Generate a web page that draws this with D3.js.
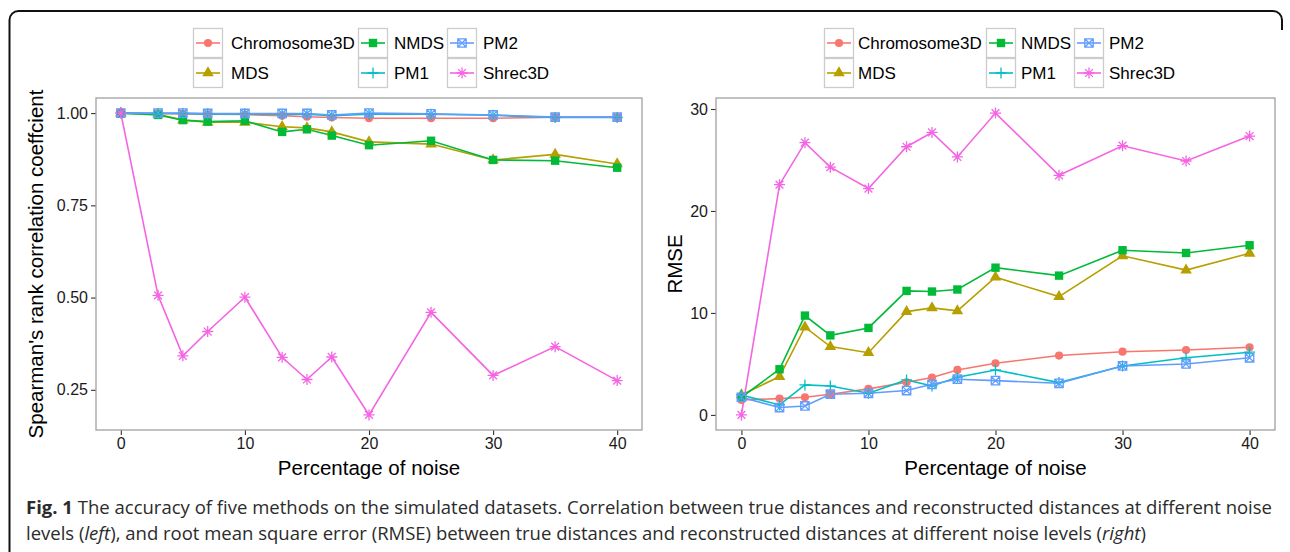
<!DOCTYPE html>
<html>
<head>
<meta charset="utf-8">
<script src="https://cdn.jsdelivr.net/npm/d3@7"></script>
<style>
  body { margin: 0; background: #fff; }
  svg { display: block; }
</style>
</head>
<body>
<svg id="fig" width="1290" height="552"></svg>
<script>
// noise levels (x) shared by both panels
const noise = [0, 3, 5, 7, 10, 13, 15, 17, 20, 25, 30, 35, 40];
const methods = ['Chromosome3D', 'MDS', 'NMDS', 'PM1', 'PM2', 'Shrec3D'];
const colors = ['#F8766D', '#B79F00', '#00BA38', '#00BFC4', '#619CFF', '#F564E3'];
const shapes = ['circle', 'triangle', 'square', 'plus', 'squareCross', 'asterisk'];

// left panel: Spearman's rank correlation
const corrChromosome3D = [1.000, 0.999, 0.998, 0.997, 0.996, 0.993, 0.990, 0.988, 0.986, 0.986, 0.986, 0.989, 0.989];
const corrMDS = [1.000, 0.997, 0.981, 0.975, 0.975, 0.963, 0.960, 0.949, 0.922, 0.916, 0.873, 0.888, 0.862];
const corrNMDS = [1.000, 0.995, 0.981, 0.977, 0.979, 0.949, 0.956, 0.939, 0.913, 0.925, 0.873, 0.871, 0.852];
const corrPM1 = [1.000, 0.999, 0.999, 0.998, 0.998, 0.997, 0.997, 0.993, 0.997, 0.997, 0.994, 0.988, 0.988];
const corrPM2 = [1.000, 1.000, 1.000, 0.999, 0.999, 0.999, 0.999, 0.995, 1.000, 0.998, 0.995, 0.989, 0.989];
const corrShrec3D = [1.000, 0.506, 0.342, 0.408, 0.501, 0.338, 0.278, 0.339, 0.182, 0.460, 0.289, 0.367, 0.275];

// right panel: RMSE
const rmseChromosome3D = [1.47, 1.60, 1.73, 2.03, 2.55, 3.20, 3.66, 4.41, 5.07, 5.82, 6.20, 6.37, 6.64];
const rmseMDS = [1.96, 3.76, 8.60, 6.70, 6.10, 10.13, 10.50, 10.20, 13.50, 11.60, 15.60, 14.20, 15.85];
const rmseNMDS = [1.73, 4.48, 9.74, 7.80, 8.53, 12.16, 12.10, 12.30, 14.44, 13.66, 16.15, 15.88, 16.64];
const rmsePM1 = [1.96, 0.98, 2.94, 2.84, 2.12, 3.43, 2.84, 3.70, 4.41, 3.17, 4.80, 5.60, 6.15];
const rmsePM2 = [1.73, 0.72, 0.88, 2.03, 2.12, 2.39, 3.00, 3.50, 3.36, 3.10, 4.80, 5.00, 5.60];
const rmseShrec3D = [0.00, 22.58, 26.70, 24.30, 22.20, 26.30, 27.70, 25.30, 29.60, 23.50, 26.40, 24.90, 27.35];

const xTicks = [0, 10, 20, 30, 40];
const corrTicks = [0.25, 0.50, 0.75, 1.00];
const rmseTicks = [0, 10, 20, 30];

const svg = d3.select('#fig');
const FONT = '"Liberation Sans", Arial, sans-serif';

// point shapes, roughly ggplot shapes 16,17,15,3,7,8
function shapePath(shape) {
    const s = 4.2;
    switch (shape) {
        case 'circle': return d3.symbol(d3.symbolCircle, 52)();
        case 'triangle': return d3.symbol(d3.symbolTriangle, 58)();
        case 'square': return 'M' + -s + ',' + -s + 'H' + s + 'V' + s + 'H' + -s + 'Z';
        case 'plus': return 'M-5.5,0H5.5M0,-5.5V5.5';
        case 'squareCross': return 'M' + -s + ',' + -s + 'H' + s + 'V' + s + 'H' + -s + 'Z' +
            'M' + -s + ',' + -s + 'L' + s + ',' + s + 'M' + s + ',' + -s + 'L' + -s + ',' + s;
        case 'asterisk': return 'M-5.5,0H5.5M0,-5.5V5.5M-3.9,-3.9L3.9,3.9M3.9,-3.9L-3.9,3.9';
    }
}
function isFilled(shape) {
    return shape === 'circle' || shape === 'triangle' || shape === 'square';
}
function drawPoint(sel, shape, color) {
    sel.append('path')
        .attr('d', shapePath(shape))
        .attr('fill', isFilled(shape) ? color : 'none')
        .attr('stroke', color)
        .attr('stroke-width', isFilled(shape) ? 0 : 1.3);
}

function makePanel(cfg) {
    const x = d3.scaleLinear().domain([-2, 42]).range([cfg.left, cfg.right]);
    const ext = d3.extent(cfg.series.flat());
    const pad = (ext[1] - ext[0]) * 0.05;
    const y = d3.scaleLinear().domain([ext[0] - pad, ext[1] + pad]).range([cfg.bottom, cfg.top]);

    const g = svg.append('g').attr('class', 'panel');

    // axes
    const xAxis = g.append('g')
        .attr('transform', 'translate(0,' + cfg.bottom + ')')
        .call(d3.axisBottom(x).tickValues(xTicks).tickSize(5).tickPadding(3));
    const yAxis = g.append('g')
        .attr('transform', 'translate(' + cfg.left + ',0)')
        .call(d3.axisLeft(y).tickValues(cfg.ticks).tickFormat(cfg.fmt).tickSize(5).tickPadding(3));
    [xAxis, yAxis].forEach(function (a) {
        a.select('.domain').remove();
        a.selectAll('.tick line').attr('stroke', '#333').attr('stroke-width', 1.1);
        a.selectAll('.tick text')
            .attr('fill', '#1a1a1a')
            .style('font-family', FONT)
            .style('font-size', '16px');
    });

    // panel border
    g.append('rect')
        .attr('x', cfg.left).attr('y', cfg.top)
        .attr('width', cfg.right - cfg.left).attr('height', cfg.bottom - cfg.top)
        .attr('fill', 'none').attr('stroke', '#a0a0a0').attr('stroke-width', 1.3);

    // lines then points
    const line = d3.line().x(function (d, i) { return x(noise[i]); }).y(function (d) { return y(d); });
    cfg.series.forEach(function (vals, k) {
        g.append('path')
            .attr('d', line(vals))
            .attr('fill', 'none')
            .attr('stroke', colors[k])
            .attr('stroke-width', 1.6);
    });
    cfg.series.forEach(function (vals, k) {
        vals.forEach(function (v, i) {
            const p = g.append('g').attr('transform', 'translate(' + x(noise[i]) + ',' + y(v) + ')');
            drawPoint(p, shapes[k], colors[k]);
        });
    });

    // axis titles
    g.append('text')
        .attr('x', (cfg.left + cfg.right) / 2).attr('y', 475)
        .attr('text-anchor', 'middle')
        .style('font-family', FONT).style('font-size', '20.5px')
        .text('Percentage of noise');
    g.append('text')
        .attr('transform', 'translate(' + cfg.yTitleX + ',' + (cfg.top + cfg.bottom) / 2 + ') rotate(-90)')
        .attr('text-anchor', 'middle')
        .style('font-family', FONT).style('font-size', '20.5px')
        .text(cfg.yTitle);

    // legend, 3 columns x 2 rows
    methods.forEach(function (m, k) {
        const col = Math.floor(k / 2);
        const row = k % 2;
        const kx = cfg.legendKeys[col];
        const ky = 28 + row * 30;
        const lg = g.append('g').attr('transform', 'translate(' + kx + ',' + ky + ')');
        lg.append('rect')
            .attr('x', 0.5).attr('y', 0.5).attr('width', 29).attr('height', 29)
            .attr('fill', '#fff').attr('stroke', '#cccccc').attr('stroke-width', 1.3);
        lg.append('line')
            .attr('x1', 3).attr('x2', 27).attr('y1', 15).attr('y2', 15)
            .attr('stroke', colors[k]).attr('stroke-width', 1.6);
        drawPoint(lg.append('g').attr('transform', 'translate(15,15)'), shapes[k], colors[k]);
        g.append('text')
            .attr('x', cfg.legendLabels[col]).attr('y', ky + 21)
            .style('font-family', FONT).style('font-size', '17px')
            .text(m);
    });
}

makePanel({
    left: 96, right: 642, top: 98, bottom: 430,
    series: [corrChromosome3D, corrMDS, corrNMDS, corrPM1, corrPM2, corrShrec3D],
    ticks: corrTicks, fmt: d3.format('.2f'),
    yTitle: "Spearman's rank correlation coeffcient", yTitleX: 43,
    legendKeys: [193, 358, 447], legendLabels: [231, 394, 483]
});
makePanel({
    left: 716, right: 1275, top: 98, bottom: 430,
    series: [rmseChromosome3D, rmseMDS, rmseNMDS, rmsePM1, rmsePM2, rmseShrec3D],
    ticks: rmseTicks, fmt: d3.format('d'),
    yTitle: 'RMSE', yTitleX: 682,
    legendKeys: [824, 986, 1074], legendLabels: [858, 1021, 1109]
});

// figure frame (top-left rounded corner)
svg.append('path')
    .attr('d', 'M9.5,552V20A9,9 0 0 1 18.5,11H1273A9,9 0 0 1 1282,20V30')
    .attr('fill', 'none').attr('stroke', '#111').attr('stroke-width', 2);

// caption
const cap = svg.append('g')
    .style('font-family', '"Open Sans", "Noto Sans", sans-serif')
    .style('font-size', '18.5px')
    .attr('fill', '#2b2b2b');
const l1 = cap.append('text').attr('x', 26).attr('y', 514)
    .attr('textLength', 1246).attr('lengthAdjust', 'spacingAndGlyphs');
l1.append('tspan').style('font-weight', 'bold').text('Fig. 1');
l1.append('tspan').text(' The accuracy of five methods on the simulated datasets. Correlation between true distances and reconstructed distances at different noise');
const l2 = cap.append('text').attr('x', 26).attr('y', 540);
l2.append('tspan').text('levels (');
l2.append('tspan').style('font-style', 'italic').text('left');
l2.append('tspan').text('), and root mean square error (RMSE) between true distances and reconstructed distances at different noise levels (');
l2.append('tspan').style('font-style', 'italic').text('right');
l2.append('tspan').text(')');
</script>
</body>
</html>
